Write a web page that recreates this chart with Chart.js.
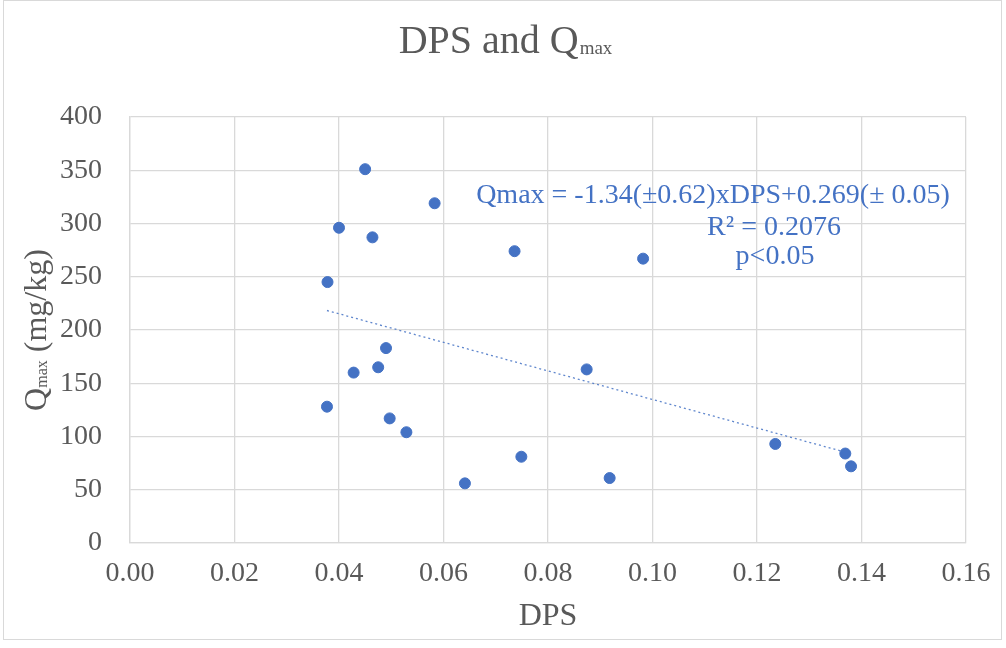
<!DOCTYPE html>
<html>
<head>
<meta charset="utf-8">
<script src="https://cdn.jsdelivr.net/npm/chart.js@4.4.1/dist/chart.umd.min.js"></script>
<style>
  html, body { margin: 0; padding: 0; background: #fff; }
  canvas { display: block; }
</style>
</head>
<body>
<canvas id="myChart" width="1006" height="648"></canvas>
<script>
// values
var dps  = [0.0450, 0.0583, 0.0400, 0.0464, 0.0736, 0.0982, 0.0378, 0.0490, 0.0428, 0.0475,
            0.0874, 0.0377, 0.0497, 0.0529, 0.1235, 0.1369, 0.1380, 0.0749, 0.0918, 0.0641];
var qmax = [351, 319, 296, 287, 274, 267, 245, 183, 160, 165,
            163, 128, 117, 104, 93, 84, 72, 81, 61, 56];
var xTicks = [0, 0.02, 0.04, 0.06, 0.08, 0.10, 0.12, 0.14, 0.16];
var yTicks = [0, 50, 100, 150, 200, 250, 300, 350, 400];
var eqLines = ['Qmax = -1.34(\u00b10.62)xDPS+0.269(\u00b1 0.05)', 'R\u00b2 = 0.2076', 'p<0.05'];

var serif = "'Liberation Serif', 'Times New Roman', serif";
var blue = '#4472C4';
var grey = '#595959';

// linear trendline (least squares, like the excel one)
var pts = [];
for (var i = 0; i < dps.length; i++) pts.push({x: dps[i], y: qmax[i]});
var mx = 0, my = 0;
for (var i = 0; i < dps.length; i++) { mx += dps[i]; my += qmax[i]; }
mx /= dps.length; my /= dps.length;
var sxy = 0, sxx = 0;
for (var i = 0; i < dps.length; i++) { sxy += (dps[i]-mx)*(qmax[i]-my); sxx += (dps[i]-mx)*(dps[i]-mx); }
var slope = sxy / sxx, icpt = my - slope*mx;
var xmin = Math.min.apply(null, dps), xmax = Math.max.apply(null, dps);
var trend = [{x: xmin, y: icpt + slope*xmin}, {x: xmax, y: icpt + slope*xmax}];

var extras = {
  id: 'extras',
  afterDraw: function(chart) {
    var c = chart.ctx;
    c.save();
    // outer border
    c.strokeStyle = '#d9d9d9';
    c.lineWidth = 1;
    c.strokeRect(3.5, 0.5, 998, 639);

    // title with subscript
    c.fillStyle = grey;
    c.textBaseline = 'alphabetic';
    c.textAlign = 'left';
    c.font = '40px ' + serif;
    var main = 'DPS and Q';
    var w1 = c.measureText(main).width;
    c.font = '19px ' + serif;
    var w2 = c.measureText('max').width;
    var tx = 505 - (w1 + w2) / 2;
    c.font = '40px ' + serif;
    c.fillText(main, tx, 53);
    c.font = '19px ' + serif;
    c.fillText('max', tx + w1 + 1, 54);

    // x axis title
    c.font = '32px ' + serif;
    c.textAlign = 'center';
    var a = chart.chartArea;
    c.fillText('DPS', (a.left + a.right) / 2, 625);

    // y axis title, rotated, with subscript
    c.save();
    c.translate(46, 330);
    c.rotate(-Math.PI / 2);
    c.textAlign = 'left';
    c.font = '32px ' + serif;
    var q = c.measureText('Q').width;
    var rest = ' (mg/kg)';
    var wr = c.measureText(rest).width;
    c.font = '16px ' + serif;
    var ws = c.measureText('max').width;
    var sx = -(q + ws + wr) / 2;
    c.font = '32px ' + serif;
    c.fillText('Q', sx, 0);
    c.font = '16px ' + serif;
    c.fillText('max', sx + q, 1);
    c.font = '32px ' + serif;
    c.fillText(rest, sx + q + ws, 0);
    c.restore();

    // trendline label
    c.fillStyle = blue;
    c.textAlign = 'center';
    c.font = '28px ' + serif;
    c.fillText(eqLines[0], 713, 203);
    c.fillText(eqLines[1], 774, 235);
    c.fillText(eqLines[2], 775, 264);
    c.restore();
  }
};

window.Scatter = new Chart(document.getElementById('myChart').getContext('2d'), {
  type: 'scatter',
  data: {
    datasets: [{
      label: 'Qmax',
      data: pts,
      backgroundColor: blue,
      borderColor: blue,
      pointRadius: 5.5,
      pointHoverRadius: 5.5,
      order: 1
    }, {
      label: 'trend',
      type: 'line',
      data: trend,
      showLine: true,
      borderColor: 'rgba(68,114,196,0.85)',
      borderWidth: 1.3,
      borderDash: [2, 3],
      pointRadius: 0,
      fill: false,
      order: 2
    }]
  },
  options: {
    responsive: false,
    animation: false,
    layout: { padding: { top: 117, right: 40, left: 0, bottom: 0 } },
    plugins: { legend: { display: false }, tooltip: { enabled: false }, title: { display: false } },
    scales: {
      x: {
        type: 'linear',
        min: 0, max: 0.16,
        afterBuildTicks: function(s) { s.ticks = xTicks.map(function(v) { return {value: v}; }); },
        afterFit: function(s) { s.height = 105; },
        ticks: {
          callback: function(v) { return v.toFixed(2); },
          font: { family: serif, size: 28 },
          color: grey,
          padding: 14,
          maxRotation: 0
        },
        grid: { color: '#d9d9d9', lineWidth: 1.3, drawTicks: false },
        border: { color: '#d9d9d9', width: 1.3 }
      },
      y: {
        min: 0, max: 400,
        afterBuildTicks: function(s) { s.ticks = yTicks.map(function(v) { return {value: v}; }); },
        afterFit: function(s) { s.width = 130; },
        ticks: {
          font: { family: serif, size: 28 },
          color: grey,
          padding: 28
        },
        grid: { color: '#d9d9d9', lineWidth: 1.3, drawTicks: false },
        border: { color: '#d9d9d9', width: 1.3 }
      }
    }
  },
  plugins: [extras]
});
</script>
</body>
</html>
